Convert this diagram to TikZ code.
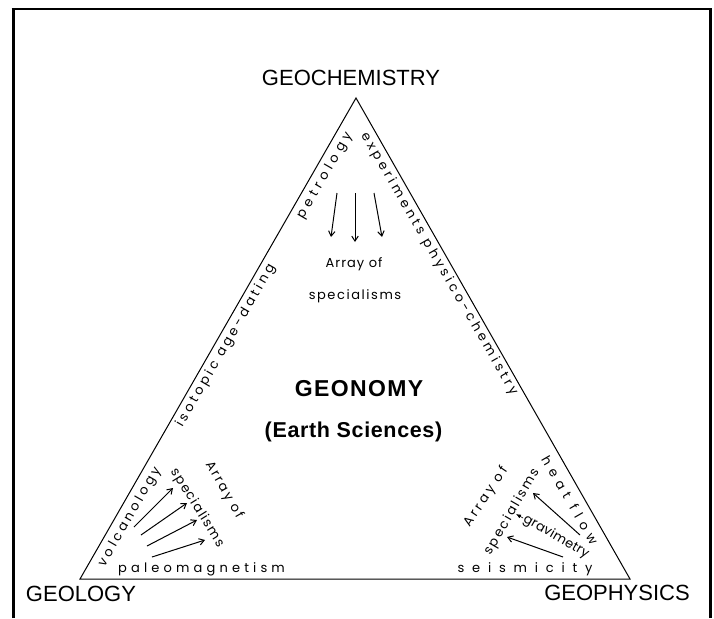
\documentclass[tikz,border=0pt]{standalone}
\usepackage{fontspec}
\setmainfont{Liberation Sans}
\newfontfamily\edgefont{Poppins}
\usepackage{tikz}
\usetikzlibrary{arrows.meta, calc, positioning}

\newcommand{\spaced}[2]{{\addfontfeature{LetterSpace=#1}#2}}

\tikzset{
  corner/.style={font=\fontsize{22}{22}\selectfont, inner sep=0pt},
  field/.style={font=\edgefont\fontsize{13}{13}\selectfont, inner sep=0pt},
  spec/.style={line width=1pt, -{Straight Barb[length=5pt,width=6.5pt]}},
}

\begin{document}
\begin{tikzpicture}[x=1pt, y=-1pt]
    \useasboundingbox (0,0) rectangle (714,618);
    % 外框
    \draw[line width=3pt] (13,618) -- (13,9);
    \draw[line width=3pt] (710,618) -- (710,9);
    \draw[line width=2pt] (11.5,9) -- (711.5,9);

    % 三角形
    \coordinate (geol) at (80,579);
    \coordinate (geoph) at (630,579);
    \coordinate (geoch) at (356,98);
    \draw[line width=1pt] (geol) -- (geoph) -- (geoch) -- cycle;

    % 顶点标签
    \node[corner] (geochem) at (351,77.5) {GEOCHEMISTRY};
    \node[corner] (geology) at (81,593.5) {GEOLOGY};
    \node[corner] (geophys) at (617,593) {GEOPHYSICS};

    % 中心
    \node[font=\bfseries\fontsize{23}{23}\selectfont, inner sep=0pt] (geonomy) at (359,388.5) {\spaced{6}{GEONOMY}};
    \node[font=\bfseries\fontsize{21.5}{21.5}\selectfont, inner sep=0pt] (earth) at (353.5,432) {\spaced{3}{(Earth Sciences)}};

    % 沿边的学科
    \node[field, rotate=60] (petro) at (325,176) {\spaced{34}{petrology}};
    \node[field, rotate=60] (isodate) at (226,346) {\spaced{25}{isotopic age-dating}};
    \node[field, rotate=60] (volcano) at (130,517) {\spaced{25}{volcanology}};
    \node[field, rotate=-60] (physchem) at (439,264) {\spaced{27}{experiments\hspace{7pt}physico-chemistry}};
    \node[field, rotate=-60] (heatflow) at (570,500) {\spaced{44}{heat flow}};
    \node[field] (paleomag) at (201.5,569) {\spaced{32}{paleomagnetism}};
    \node[field] (seismic) at (525,569) {\spaced{60}{seismicity}};

    % Array of specialisms
    \node[field] (arr1) at (354,264.5) {\spaced{8}{Array of}};
    \node[field] (spec1) at (355,296) {\spaced{12}{specialisms}};
    \node[field, rotate=-60] (arr2) at (224,490) {\spaced{16}{Array of}};
    \node[field, rotate=-58] (spec2) at (197,508) {\spaced{10}{specialisms}};
    \node[field, rotate=56] (arr3) at (486,497) {\spaced{23}{Array of}};
    \node[field, rotate=60] (spec3) at (512,512) {\spaced{16}{specialisms}};
    \node[field, rotate=-30] (grav) at (556,537) {\spaced{2}{gravimetry}};

    % 箭头
    \foreach \n/\sx/\sy/\ex/\ey in {t1/337/193/331/237, t2/355/193/355/242, t3/374/193/382/237,
        l1/134/527/173/488, l2/141/535/187/503, l3/147/546/197/520, l4/152/557/205/540,
        r1/580/535/533/493, r2/563/557/507/537}
    {
        \coordinate (\n s) at (\sx,\sy);
        \coordinate (\n e) at (\ex,\ey);
        \draw[spec] (\n s) -- (\n e);
    }
    \coordinate (gtail) at (523,518);
    \coordinate (gtip) at (516,514);
    \draw[line width=0.6pt, -{Latex[length=5pt,width=4pt]}] (gtail) -- (gtip);
\end{tikzpicture}
\end{document}
